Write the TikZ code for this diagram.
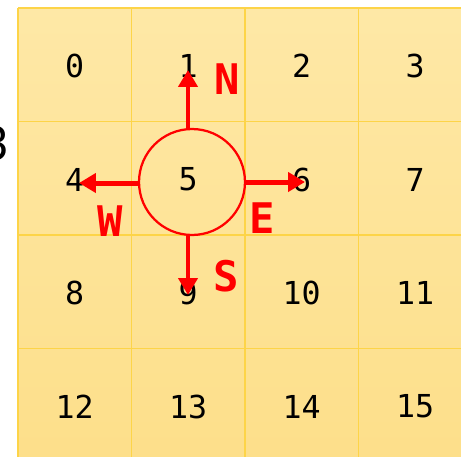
\documentclass[tikz,border=0pt]{standalone}
\usepackage{fontspec}
\setmonofont{DejaVu Sans Mono}
\newfontfamily\edgefont{Carlito}
\usetikzlibrary{arrows.meta}
\definecolor{celltop}{RGB}{254,232,166}
\definecolor{cellbottom}{RGB}{253,223,138}
\definecolor{cellline}{RGB}{253,212,72}
\definecolor{compass}{RGB}{255,0,0}
\tikzset{
  gridline/.style={draw=cellline, line width=0.03cm},
  cellnum/.style={font=\ttfamily\fontsize{18}{18}\selectfont, text=black, inner sep=0pt},
  hub/.style={circle, draw=compass, line width=0.045cm, minimum size=2.12cm, inner sep=0pt},
  dir/.style={draw=compass, line width=0.1cm, -{Triangle[length=0.34cm, width=0.38cm]}},
  dirlabel/.style={font=\ttfamily\bfseries\fontsize{24}{24}\selectfont, text=compass, inner sep=0pt}
}
\begin{document}
\begin{tikzpicture}[x=0.02cm, y=-0.02cm]
  \clip (0,0) rectangle (461,457);
  % board
  \shade[top color=celltop, bottom color=cellbottom] (18,8) rectangle (472,462);
  \foreach \i in {0,...,4} {
    \draw[gridline] ({18+113.5*\i},8) -- ({18+113.5*\i},462);
    \draw[gridline] (18,{8+113.5*\i}) -- (472,{8+113.5*\i});
  }
  % cut-off digit on the left
  \node[anchor=east, inner sep=0pt, font=\edgefont\fontsize{30}{30}\selectfont] (edge) at (9,144) {3};
  % cell numbers
  \foreach \n in {0,...,15}
    \node[cellnum] (n\n) at ({74.75+113.5*mod(\n,4)}, {66+113.5*int(\n/4)}) {\n};
  % compass round cell 5
  \node[hub] (center) at (192,182) {};
  \coordinate (tipN) at (188,70);
  \coordinate (tipE) at (305,182);
  \coordinate (tipS) at (188,295);
  \coordinate (tipW) at (79,183);
  \draw[dir] (center.north -| tipN) -- (tipN);
  \draw[dir] (center.east) -- (tipE);
  \draw[dir] (center.south -| tipS) -- (tipS);
  \draw[dir] (center.west |- tipW) -- (tipW);
  \node[dirlabel] (lN) at (227,79) {N};
  \node[dirlabel] (lE) at (262,218) {E};
  \node[dirlabel] (lS) at (226,276) {S};
  \node[dirlabel] (lW) at (110,221) {W};
\end{tikzpicture}
\end{document}
